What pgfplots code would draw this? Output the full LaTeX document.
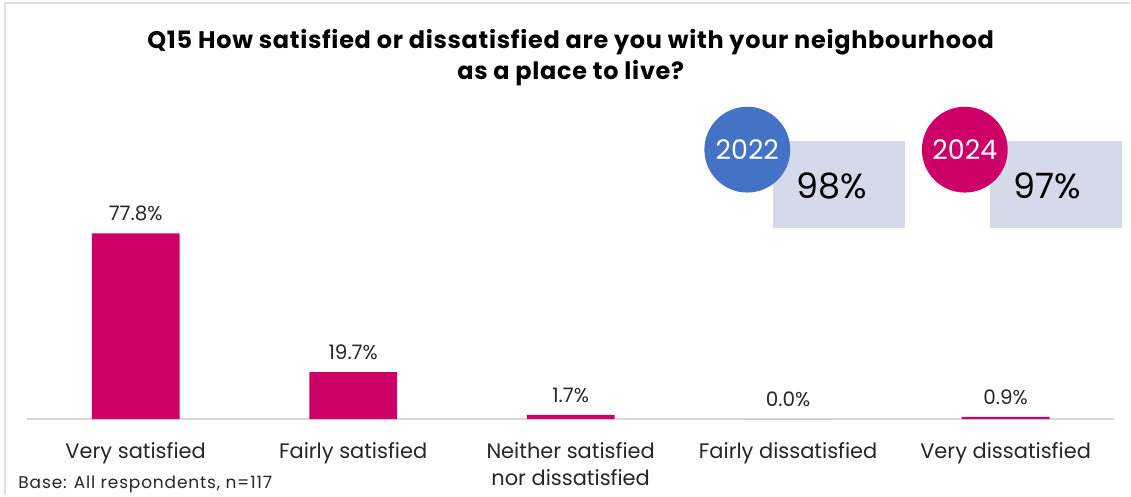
\documentclass[border=0pt]{standalone}
\usepackage{pgfplots}
\pgfplotsset{compat=1.18}
\usepackage{fontspec}
\setmainfont{Poppins}
\definecolor{barmag}{HTML}{CC0066}
\definecolor{circblue}{HTML}{4472C4}
\definecolor{boxlav}{HTML}{D5DAEB}
\definecolor{txtgray}{HTML}{262626}
\begin{document}
\begin{tikzpicture}[x=1pt,y=1pt]
\path (0,0) rectangle (1131,494);
\draw[gray!25,line width=1.2pt] (5,-2) -- (5,491) -- (1133,491);
% title
\node[align=center,font=\bfseries\fontsize{24}{31}\selectfont\addfontfeatures{LetterSpace=3},text=black] at (572,436) {Q15 How satisfied or dissatisfied are you with your neighbourhood\\as a place to live?};
\begin{axis}[
  at={(27pt,74pt)}, anchor=south west,
  scale only axis, width=1090pt, height=300pt,
  xmin=-0.5, xmax=4.5, ymin=0, ymax=125.5,
  axis y line=none, axis x line*=bottom,
  axis line style={draw=black!15,line width=1.2pt},
  x axis line style={-},
  xtick=data, major tick length=0pt,
  xticklabels={Very satisfied,Fairly satisfied,Neither satisfied\\nor dissatisfied,Fairly dissatisfied,Very dissatisfied},
  xticklabel style={align=center,font=\fontsize{21}{27}\selectfont,text=txtgray,yshift=-20pt},
  ybar, bar width=88pt,
  clip=false,
  nodes near coords={\pgfmathprintnumber[fixed,fixed zerofill,precision=1,assume math mode=true]{\pgfplotspointmeta}\%},
  nodes near coords style={font=\fontsize{20}{23}\selectfont,text=txtgray,inner sep=0pt,yshift=12pt},
]
\addplot[fill=barmag,draw=none] coordinates {(0,77.8) (1,19.7) (2,1.7) (3,0.0) (4,0.9)};
\end{axis}
\node[anchor=west,font=\fontsize{17}{18}\selectfont\addfontfeatures{LetterSpace=5},text=txtgray] at (15,8) {Base: All respondents, n=117};
% summary boxes
\fill[boxlav] (775,265) rectangle (907,353);
\fill[circblue] (749,344) circle (43);
\node[text=white,font=\fontsize{27}{30}\selectfont] at (749,344) {2022};
\node[text=black,font=\fontsize{35}{40}\selectfont] at (834,308) {98\%};
\fill[boxlav] (992,265) rectangle (1125,353);
\fill[barmag] (967,344) circle (43);
\node[text=white,font=\fontsize{27}{30}\selectfont] at (967,344) {2024};
\node[text=black,font=\fontsize{35}{40}\selectfont] at (1050,308) {97\%};
\end{tikzpicture}
\end{document}
